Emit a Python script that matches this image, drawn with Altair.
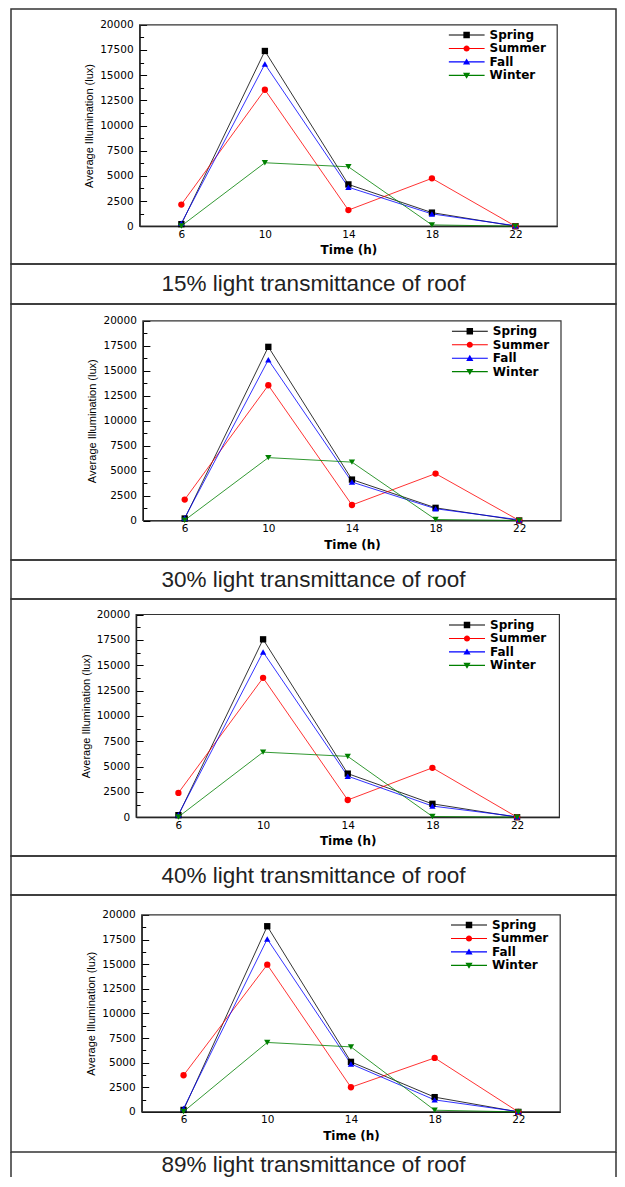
import altair as alt
import pandas as pd

# ---------------- data ----------------
hours = [6, 10, 14, 18, 22]
seasons = ["Spring", "Summer", "Fall", "Winter"]
captions = [
    "15% light transmittance of roof",
    "30% light transmittance of roof",
    "40% light transmittance of roof",
    "89% light transmittance of roof",
]

spring_15 = [200, 17400, 4150, 1350, 0]
summer_15 = [2150, 13550, 1600, 4750, 0]
fall_15 = [300, 16100, 3870, 1220, 50]
winter_15 = [30, 6300, 5900, 130, 0]

spring_30 = [200, 17400, 4100, 1270, 0]
summer_30 = [2100, 13550, 1550, 4700, 0]
fall_30 = [250, 16100, 3850, 1180, 70]
winter_30 = [30, 6300, 5850, 100, 0]

spring_40 = [200, 17550, 4300, 1320, 0]
summer_40 = [2400, 13750, 1700, 4870, 0]
fall_40 = [250, 16300, 4050, 1100, 50]
winter_40 = [30, 6420, 6000, 70, 0]

spring_89 = [200, 18850, 5080, 1500, 0]
summer_89 = [3720, 14950, 2500, 5480, 0]
fall_89 = [350, 17550, 4870, 1220, 30]
winter_89 = [30, 7050, 6600, 170, 0]

panels = [
    [spring_15, summer_15, fall_15, winter_15],
    [spring_30, summer_30, fall_30, winter_30],
    [spring_40, summer_40, fall_40, winter_40],
    [spring_89, summer_89, fall_89, winter_89],
]

x_domain = [4, 24]
y_domain = [0, 20000]
y_ticks = [0, 2500, 5000, 7500, 10000, 12500, 15000, 17500, 20000]
y_minor = [1250, 3750, 6250, 8750, 11250, 13750, 16250, 18750]

# ---------------- styles ----------------
season_colors = ["#000000", "#ff0000", "#0000ff", "#008000"]
season_shapes = ["square", "circle", "triangle-up", "triangle-down"]
LINE = "M-1,-0.03H1V0.03H-1Z"
legend_paths = [
    LINE + "M-0.18,-0.18H0.18V0.18H-0.18Z",
    LINE + "M-0.17,0A0.17,0.17,0,1,1,0.17,0A0.17,0.17,0,1,1,-0.17,0Z",
    LINE + "M0,-0.19L0.2,0.15H-0.2Z",
    LINE + "M0,0.19L-0.2,-0.15H0.2Z",
]

W = 605
chart_h = [255, 256, 257, 257]
cap_h = [40, 39, 39, 25]
# plot-area geometry inside each cell (left, right, top, bottom) and legend position
geom = [
    dict(xl=128.6, xr=546.2, yt=15.8, yb=217.2, lx=437.6, ly=20.5),
    dict(xl=131.9, xr=550.0, yt=16.9, yb=216.5, lx=440.8, ly=21.8),
    dict(xl=125.1, xr=548.4, yt=15.5, yb=218.2, lx=438.0, ly=20.5),
    dict(xl=130.7, xr=549.2, yt=19.9, yb=216.9, lx=440.0, ly=24.5),
]

LABEL_FONT = "DejaVu Sans"
CAP_FONT = "Liberation Sans Narrow, Liberation Sans, Arial, sans-serif"
BORDER = "#333333"


def panel_chart(i):
    g = geom[i]
    H = chart_h[i]
    rows = []
    for s, vals in zip(seasons, panels[i]):
        for h, v in zip(hours, vals):
            rows.append({"season": s, "time": h, "value": v})
    df = pd.DataFrame(rows)
    base = alt.Chart(df)

    xs = alt.Scale(domain=x_domain, range=[g["xl"], g["xr"]], nice=False, zero=False)
    ys = alt.Scale(domain=y_domain, range=[g["yb"], g["yt"]], nice=False, zero=False)

    frame = alt.Chart(pd.DataFrame({"frame": [0]})).mark_rect(
        filled=False, color="#333333", strokeWidth=1.2
    ).encode(
        x=alt.XDatum(datum=x_domain[0], type="quantitative", scale=xs, axis=None),
        x2=alt.X2Datum(datum=x_domain[1]),
        y=alt.YDatum(
            datum=y_domain[0], type="quantitative", scale=ys,
            axis=alt.Axis(orient="right", offset=g["xl"] - W, values=y_ticks,
                          tickSize=7, tickColor="#000", tickWidth=1,
                          labels=False, domain=False, grid=False, title=None),
        ),
        y2=alt.Y2Datum(datum=y_domain[1]),
    )

    lines = base.mark_line(strokeWidth=1, opacity=0.8).encode(
        x=alt.X("time:Q", scale=xs,
                axis=alt.Axis(orient="bottom", values=hours, title="Time (h)",
                              offset=g["yb"] - H, format="d",
                              ticks=False, grid=False, domainColor="#000",
                              domainWidth=1.2, labelFont=LABEL_FONT,
                              labelFontSize=10.5, labelColor="#000",
                              labelPadding=3, titleFont=LABEL_FONT,
                              titleFontSize=12, titleFontWeight="bold",
                              titleColor="#000", titlePadding=5)),
        y=alt.Y("value:Q", scale=ys,
                axis=alt.Axis(values=y_ticks, title="Average Illumination (lux)",
                              offset=-g["xl"], ticks=False, grid=False, format="d",
                              domainColor="#000", domainWidth=1.2,
                              labelFont=LABEL_FONT, labelFontSize=10.5,
                              labelColor="#000", labelPadding=6.5,
                              titleFont="Liberation Sans", titleFontSize=11,
                              titleFontWeight="normal", titleColor="#000",
                              titlePadding=5)),
        stroke=alt.Stroke("season:N",
                          scale=alt.Scale(domain=seasons, range=season_colors),
                          legend=None),
    )

    pts = base.mark_point(filled=True, opacity=1, size=40).encode(
        x=alt.X("time:Q", scale=xs, axis=None),
        y=alt.Y("value:Q", scale=ys,
                axis=alt.Axis(orient="right", offset=g["xl"] - W, values=y_minor,
                              tickSize=4, tickColor="#000", tickWidth=1,
                              labels=False, domain=False, grid=False, title=None)),
        fill=alt.Fill("season:N",
                      scale=alt.Scale(domain=seasons, range=season_colors),
                      legend=None),
        shape=alt.Shape("season:N",
                        scale=alt.Scale(domain=seasons, range=season_shapes),
                        legend=None),
    )

    leg_def = alt.Legend(
        orient="none", legendX=g["lx"], legendY=g["ly"], title=None,
        symbolSize=1296, clipHeight=11, rowPadding=0.45, padding=0,
        labelFont=LABEL_FONT, labelFontSize=12, labelFontWeight="bold",
        labelColor="#000", labelOffset=5, symbolOpacity=1, symbolStrokeWidth=0,
    )
    leg = base.mark_point(filled=True, opacity=0).encode(
        x=alt.X("time:Q", scale=xs, axis=None),
        y=alt.Y("value:Q", scale=ys, axis=None),
        color=alt.Color("season:N",
                        scale=alt.Scale(domain=seasons, range=season_colors),
                        legend=leg_def),
        shape=alt.Shape("season:N",
                        scale=alt.Scale(domain=seasons, range=legend_paths),
                        legend=leg_def),
    )

    return (
        alt.layer(frame, lines, pts, leg)
        .resolve_scale(color="independent", shape="independent")
        .resolve_axis(x="independent", y="independent")
        .properties(width=W, height=H)
    )


def caption_chart(i, last=False):
    unit_x = alt.Scale(domain=[0, 1], nice=False, zero=False)
    unit_y = alt.Scale(domain=[0, 1], nice=False, zero=False)
    text = alt.Chart(pd.DataFrame({"caption": [captions[i]]})).mark_text(
        font=CAP_FONT, fontSize=22.5, color="#222222", baseline="middle", align="center"
    ).encode(
        text="caption:N",
        x=alt.XDatum(datum=0.5, type="quantitative", scale=unit_x, axis=None),
        y=alt.YDatum(datum=0.5, type="quantitative", scale=unit_y, axis=None),
    )
    if not last:
        return text.properties(width=W, height=cap_h[i])
    # last row: the table continues below the picture, so only side borders
    sides = alt.Chart(pd.DataFrame({"edge": [0, 1]})).mark_rule(
        color=BORDER, strokeWidth=1.5
    ).encode(x=alt.X("edge:Q", scale=unit_x, axis=None))
    return alt.layer(text, sides).properties(
        width=W, height=cap_h[i], view=alt.ViewBackground(strokeOpacity=0)
    )


cells = []
for i in range(4):
    cells.append(panel_chart(i))
    cells.append(caption_chart(i, last=(i == 3)))

chart = (
    alt.vconcat(*cells, spacing=0, bounds="flush")
    .properties(padding={"left": 2, "top": 0, "right": 0, "bottom": 0})
    .configure_view(stroke=BORDER, strokeWidth=1.5)
)

chart.save("out.html", embed_options={"renderer": "svg", "actions": False})
